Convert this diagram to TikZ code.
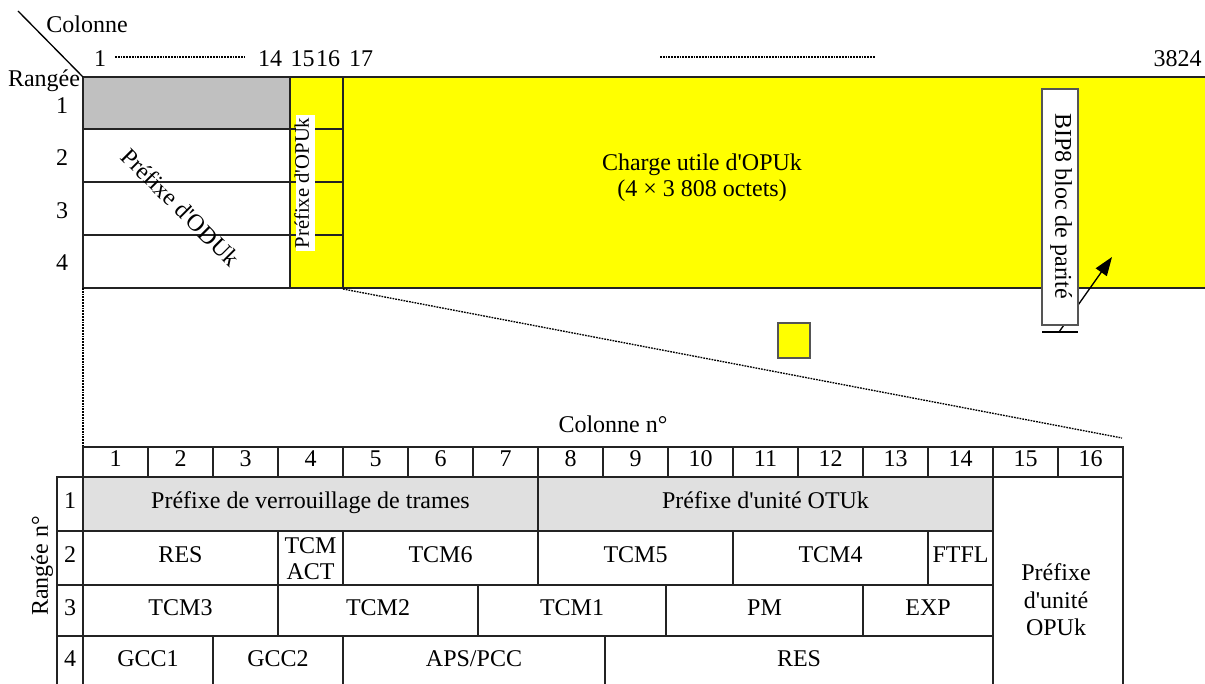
\documentclass[tikz,border=0pt]{standalone}
\usepackage{fontspec}
\setmainfont{Liberation Serif}[Ligatures=TeXOff]
\usetikzlibrary{calc,arrows.meta}
\definecolor{ygold}{RGB}{255,255,0}
\definecolor{graytop}{RGB}{192,192,192}
\definecolor{grayhdr}{RGB}{224,224,224}
\definecolor{edge}{RGB}{35,35,35}
\definecolor{boxedge}{RGB}{85,85,85}
\tikzset{
  txt/.style={font=\fontsize{18}{21}\selectfont, inner sep=0pt},
  celltxt/.style={txt, align=center, text height=0.68em, text depth=0pt},
  cellline/.style={draw=edge, line width=1.1pt},
  frameline/.style={draw=edge, line width=1.1pt},
  dotline/.style={line width=1pt, dash pattern=on 1.3pt off 0.8pt},
}
\newcommand{\cellbox}[7][]{%
  \draw[cellline,#1] (#3,#4) rectangle (#5,#6);
  \node[celltxt] (#2) at ($(#3,#4)!0.5!(#5,#6)$) {#7};}
\begin{document}
\begin{tikzpicture}[x=0.75pt,y=-0.75pt]
\useasboundingbox (0,0) rectangle (1205,684);

% ---------- top frame ----------
\fill[ygold] (290,77) rectangle (1215,288);
\fill[graytop] (83,77) rectangle (290,129);
\draw[frameline] (83,77) -- (1215,77);
\draw[frameline] (83,288) -- (1215,288);
\draw[frameline] (83,77) -- (83,288);
\draw[frameline] (290,77) -- (290,288);
\draw[frameline] (343,77) -- (343,288);
\foreach \yy in {129,182,235} \draw[frameline] (83,\yy) -- (343,\yy);

% diagonal header
\coordinate (dgA) at (18,11);
\coordinate (dgB) at (83,77);
\draw[line width=1pt] (dgA) -- (dgB);
\node[txt,anchor=base] (colonne) at (87,33) {Colonne};
\node[txt,anchor=base] (rangee) at (44,87) {Rangée};

% column numbers
\node[celltxt] (c1) at (100,62) {1};
\node[celltxt] (c14) at (270,62) {14};
\node[celltxt] (c15) at (302.5,62) {15};
\node[celltxt] (c16) at (328,62) {16};
\node[celltxt] (c17) at (361,62) {17};
\node[celltxt] (c3824) at (1177.5,62) {3824};
\coordinate (dA) at (115,57); \coordinate (dB) at (244,57);
\coordinate (dC) at (660,57); \coordinate (dD) at (875,57);
\draw[dotline] (dA) -- (dB);
\draw[dotline] (dC) -- (dD);

% row numbers
\node[celltxt] (r1t) at (62,109) {1};
\node[celltxt] (r2t) at (62,161) {2};
\node[celltxt] (r3t) at (62,214) {3};
\node[celltxt] (r4t) at (62,266) {4};

% labels in frame
\node[celltxt,rotate=-45] (oduk) at (178,210) {Préfixe d'ODUk};
\node[font=\fontsize{15.5}{18}\selectfont, fill=white, rotate=90,
      inner xsep=2pt, inner ysep=2.8pt, text height=0.72em, text depth=0.2em]
      (opuklbl) at (305.5,183) {Préfixe d'OPUk};
\node[txt,anchor=base] (charge1) at (702,171) {Charge utile d'OPUk};
\node[txt,anchor=base] (charge2) at (702,197) {(4 × 3 808 octets)};

% BIP8 box and arrow
\coordinate (arrS) at (1059,332);
\coordinate (arrE) at (1112,257);
\draw[line width=1pt,-{Triangle[length=14pt,width=10pt]}] (arrS) -- (arrE);
\draw[draw=boxedge, fill=white, line width=1pt] (1042,89) rectangle (1078,325);
\node[celltxt,rotate=-90] (bip) at (1060,206) {BIP8 bloc de parité};
\coordinate (tkA) at (1042,332); \coordinate (tkB) at (1078,332);
\draw[line width=2pt] (tkA) -- (tkB);

% small yellow square
\draw[draw=boxedge, fill=ygold, line width=1pt] (778,323) rectangle (810,358);

% zoom lines
\coordinate (zA) at (83,288); \coordinate (zB) at (83,447);
\coordinate (zC) at (343,289); \coordinate (zD) at (1122,438);
\draw[dotline] (zA) -- (zB);
\draw[dotline] (zC) -- (zD);

% ---------- bottom table ----------
\node[txt,anchor=base] (colno) at (613,432) {Colonne n°};
\node[txt,rotate=90] (rangno) at (42,566) {Rangée n°};

\foreach \k in {1,...,16} {
  \pgfmathsetmacro\xa{83+65*(\k-1)}
  \pgfmathsetmacro\xb{\xa+65}
  \cellbox{h\k}{\xa}{447}{\xb}{477}{\k}
}

% row labels
\cellbox{rl1}{57}{477}{83}{531}{1}
\cellbox{rl2}{57}{531}{83}{585}{2}
\cellbox{rl3}{57}{585}{83}{636}{3}
\cellbox{rl4}{57}{636}{83}{688}{4}

% row 1
\cellbox[fill=grayhdr]{fas}{83}{477}{538}{531}{Préfixe de verrouillage de trames}
\cellbox[fill=grayhdr]{otu}{538}{477}{993}{531}{Préfixe d'unité OTUk}
\cellbox{opu}{993}{477}{1123}{688}{}
\node[txt,anchor=base] (opu1) at (1056,580) {Préfixe};
\node[txt,anchor=base] (opu2) at (1056,608) {d'unité};
\node[txt,anchor=base] (opu3) at (1056,635) {OPUk};

% row 2
\cellbox{resA}{83}{531}{278}{585}{RES}
\cellbox{tact}{278}{531}{343}{585}{}
\node[txt,anchor=base] (tact1) at (310.5,553) {TCM};
\node[txt,anchor=base] (tact2) at (310.5,579) {ACT};
\cellbox{tcm6}{343}{531}{538}{585}{TCM6}
\cellbox{tcm5}{538}{531}{733}{585}{TCM5}
\cellbox{tcm4}{733}{531}{928}{585}{TCM4}
\cellbox{ftfl}{928}{531}{993}{585}{FTFL}

% row 3
\cellbox{tcm3}{83}{585}{278}{636}{TCM3}
\cellbox{tcm2}{278}{585}{478}{636}{TCM2}
\cellbox{tcm1}{478}{585}{666}{636}{TCM1}
\cellbox{pm}{666}{585}{863}{636}{PM}
\cellbox{exp}{863}{585}{993}{636}{EXP}

% row 4
\cellbox{gcc1}{83}{636}{213}{688}{GCC1}
\cellbox{gcc2}{213}{636}{343}{688}{GCC2}
\cellbox{aps}{343}{636}{605}{688}{APS/PCC}
\cellbox{resB}{605}{636}{993}{688}{RES}
\end{tikzpicture}
\end{document}
